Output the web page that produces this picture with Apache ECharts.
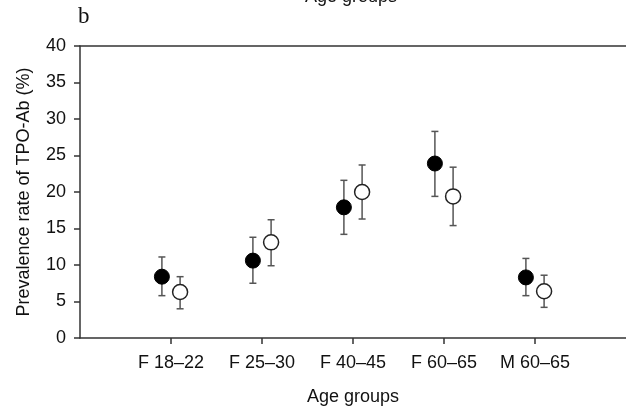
<!DOCTYPE html>
<html>
<head>
<meta charset="utf-8">
<title>TPO-Ab prevalence</title>
<script src="https://cdn.jsdelivr.net/npm/echarts@6/dist/echarts.min.js"></script>
<style>
    html, body { margin: 0; padding: 0; background: #fff; }
    #main { width: 626px; height: 411px; }
</style>
</head>
<body>
<div id="main"></div>
<script>
// 数据
var categories = ['F 18\u201322', 'F 25\u201330', 'F 40\u201345', 'F 60\u201365', 'M 60\u201365'];
var filledMean = [8.4, 10.6, 17.9, 23.9, 8.3];
var filledLow  = [5.8, 7.5, 14.2, 19.4, 5.8];
var filledHigh = [11.1, 13.8, 21.6, 28.3, 10.9];
var openMean = [6.3, 13.1, 20.0, 19.4, 6.4];
var openLow  = [4.0, 9.9, 16.3, 15.4, 4.2];
var openHigh = [8.4, 16.2, 23.7, 23.4, 8.6];
var yTicks = [0, 5, 10, 15, 20, 25, 30, 35, 40];

var font = 'Liberation Sans, Arial, sans-serif';
var shift = 0.1; // 两组点左右错开

function points(mean, dx) {
    var arr = [];
    for (var i = 0; i < mean.length; i++) {
        arr.push([i + 1 + dx, mean[i]]);
    }
    return arr;
}
function bars(low, high, dx) {
    var arr = [];
    for (var i = 0; i < low.length; i++) {
        arr.push([i + 1 + dx, low[i], high[i]]);
    }
    return arr;
}

function renderErrorBar(params, api) {
    var x = api.value(0);
    var lo = api.coord([x, api.value(1)]);
    var hi = api.coord([x, api.value(2)]);
    var cap = 3.5;
    var style = { stroke: '#555', lineWidth: 1.5 };
    return {
        type: 'group',
        children: [
            { type: 'line', shape: { x1: hi[0], y1: hi[1], x2: lo[0], y2: lo[1] }, style: style },
            { type: 'line', shape: { x1: hi[0] - cap, y1: hi[1], x2: hi[0] + cap, y2: hi[1] }, style: style },
            { type: 'line', shape: { x1: lo[0] - cap, y1: lo[1], x2: lo[0] + cap, y2: lo[1] }, style: style }
        ]
    };
}

var myChart = echarts.init(document.getElementById('main'), null, { renderer: 'canvas' });

var option = {
    animation: false,
    backgroundColor: '#fff',
    textStyle: { fontFamily: font },
    grid: { left: 80, right: -4, top: 46, bottom: 73 },
    graphic: [
        { type: 'text', left: 78, top: 5, style: { text: 'b', font: '23px "Liberation Serif", "Times New Roman", serif', fill: '#111' } },
        // 上一幅图残留的标题
        { type: 'text', left: 305, top: -12, style: { text: 'Age groups', font: '18px ' + font, fill: '#111' } }
    ],
    xAxis: [{
        type: 'value',
        min: 0,
        max: 6,
        interval: 1,
        name: 'Age groups',
        nameLocation: 'middle',
        nameGap: 50,
        nameTextStyle: { fontSize: 18, color: '#111', fontFamily: font },
        axisLine: { lineStyle: { color: '#333', width: 1.5 } },
        axisTick: { length: 6, customValues: [1, 2, 3, 4, 5], lineStyle: { color: '#333', width: 1.5 } },
        axisLabel: {
            customValues: [1, 2, 3, 4, 5],
            margin: 16,
            fontSize: 18,
            color: '#111',
            formatter: function (v) { return categories[v - 1] || ''; }
        },
        splitLine: { show: false }
    }, {
        type: 'value',
        position: 'top',
        min: 0,
        max: 6,
        axisLine: { onZero: false, lineStyle: { color: '#333', width: 1.5 } },
        axisTick: { show: false },
        axisLabel: { show: false },
        splitLine: { show: false }
    }],
    yAxis: {
        type: 'value',
        min: 0,
        max: 40,
        interval: 5,
        name: 'Prevalence rate of TPO-Ab (%)',
        nameLocation: 'middle',
        nameGap: 47,
        nameRotate: 90,
        nameTextStyle: { fontSize: 18, color: '#111', fontFamily: font },
        axisLine: { show: true, lineStyle: { color: '#333', width: 1.5 } },
        axisTick: { show: true, length: 6, lineStyle: { color: '#333', width: 1.5 } },
        axisLabel: {
            margin: 14,
            fontSize: 18,
            color: '#111',
            formatter: function (v) { return yTicks.indexOf(v) >= 0 ? String(v) : ''; }
        },
        splitLine: { show: false }
    },
    series: [{
        type: 'custom',
        renderItem: renderErrorBar,
        data: bars(filledLow, filledHigh, -shift),
        z: 1
    }, {
        type: 'custom',
        renderItem: renderErrorBar,
        data: bars(openLow, openHigh, shift),
        z: 1
    }, {
        type: 'scatter',
        data: points(filledMean, -shift),
        symbol: 'circle',
        symbolSize: 15,
        itemStyle: { color: '#000', borderColor: '#000', borderWidth: 1, opacity: 1 },
        z: 3
    }, {
        type: 'scatter',
        data: points(openMean, shift),
        symbol: 'circle',
        symbolSize: 15,
        itemStyle: { color: '#fff', borderColor: '#222', borderWidth: 1.5, opacity: 1 },
        z: 3
    }]
};

myChart.setOption(option);
</script>
</body>
</html>
